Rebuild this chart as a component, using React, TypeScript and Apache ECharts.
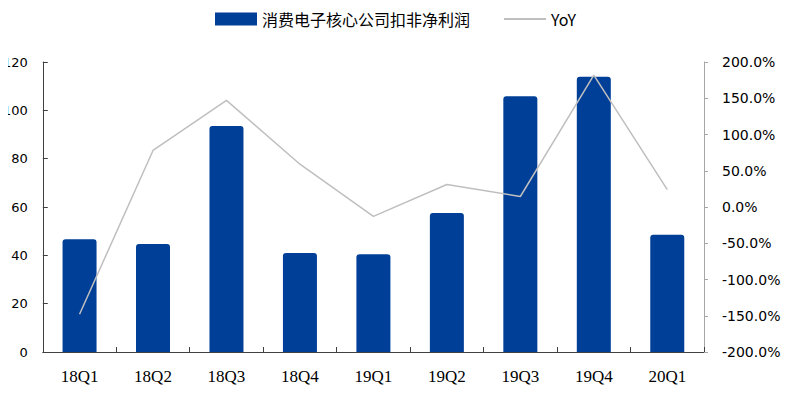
import React, { useEffect, useRef } from "react";
import * as echarts from "echarts";

const categories = ["18Q1", "18Q2", "18Q3", "18Q4", "19Q1", "19Q2", "19Q3", "19Q4", "20Q1"];
const profitValues = [46.7, 44.7, 93.5, 41.0, 40.5, 57.5, 105.8, 113.9, 48.5];
const yoyValues = [-148, 78, 147, 59, -13, 31, 14.5, 182, 24];
const leftTicks = { min: 0, max: 120, interval: 20 };
const rightTicks = { min: -200, max: 200, interval: 50 };
const barName = "消费电子核心公司扣非净利润";
const lineName = "YoY";

export default function App() {
  const ref = useRef<HTMLDivElement>(null);
  useEffect(() => {
    if (!ref.current) return;
    const chart = echarts.init(ref.current, undefined, { renderer: "svg" });
    chart.setOption({
      animation: false,
      backgroundColor: "#ffffff",
      grid: { left: 41, right: 96, top: 62, bottom: 41, containLabel: false },
      legend: {
        left: 210,
        top: 6,
        itemGap: 33,
        itemWidth: 42,
        itemHeight: 13,
        textStyle: { fontFamily: "Noto Sans CJK SC", fontSize: 16, color: "#000" },
        data: [
          { name: barName, icon: "rect" },
          { name: lineName, itemStyle: { opacity: 0 } },
        ],
      },
      xAxis: {
        type: "category",
        data: categories,
        axisLine: { lineStyle: { color: "#404040", width: 1 } },
        axisTick: { show: true, inside: true, length: 5, lineStyle: { color: "#404040" } },
        axisLabel: {
          fontFamily: "Liberation Serif",
          fontSize: 17,
          color: "#000",
          margin: 16,
        },
      },
      yAxis: [
        {
          type: "value",
          ...leftTicks,
          splitLine: { show: false },
          axisLine: { show: true, lineStyle: { color: "#404040" } },
          axisTick: { show: true, inside: true, length: 5, lineStyle: { color: "#404040" } },
          axisLabel: { fontFamily: "DejaVu Sans", fontSize: 13, color: "#000", margin: 15 },
        },
        {
          type: "value",
          ...rightTicks,
          splitLine: { show: false },
          axisLine: { show: true, lineStyle: { color: "#a6a6a6" } },
          axisTick: { show: true, inside: false, length: 4, lineStyle: { color: "#a6a6a6" } },
          axisLabel: {
            fontFamily: "DejaVu Sans",
            fontSize: 14,
            color: "#000",
            margin: 18,
            formatter: (v: number) => v.toFixed(1) + "%",
          },
        },
      ],
      series: [
        {
          name: barName,
          type: "bar",
          data: profitValues,
          barWidth: 34,
          itemStyle: { color: "#003f98", borderRadius: [3, 3, 0, 0] },
        },
        {
          name: lineName,
          type: "line",
          yAxisIndex: 1,
          data: yoyValues,
          symbol: "none",
          lineStyle: { color: "#bfbfbf", width: 1.5 },
          itemStyle: { color: "#bfbfbf" },
        },
      ],
    });
    return () => chart.dispose();
  }, []);
  return <div ref={ref} style={{ width: 800, height: 393, margin: -8 }} />;
}
